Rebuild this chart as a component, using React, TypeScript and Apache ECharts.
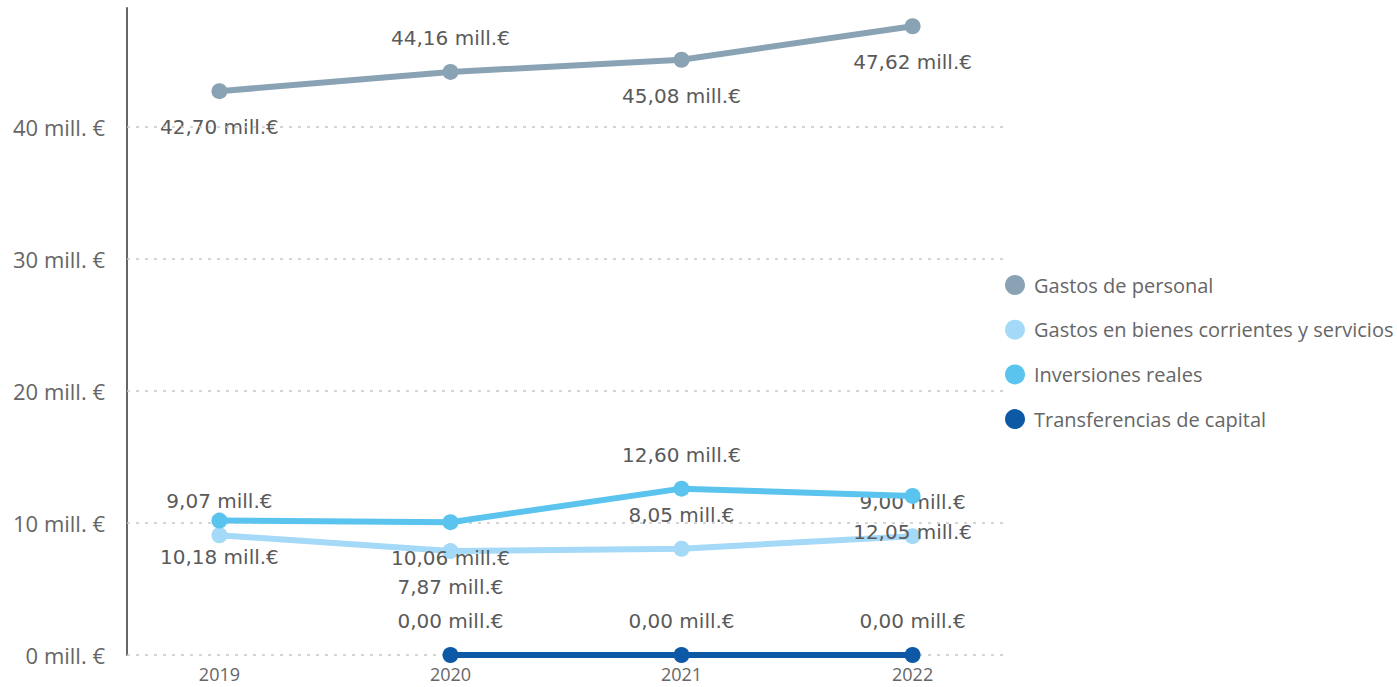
import React, { useEffect, useRef } from "react";
import * as echarts from "echarts";

const years = [2019, 2020, 2021, 2022];
const yTicks = [0, 10, 20, 30, 40];
const seriesNames = [
  "Gastos de personal",
  "Gastos en bienes corrientes y servicios",
  "Inversiones reales",
  "Transferencias de capital",
];
const gastosPersonal = [42.7, 44.16, 45.08, 47.62];
const gastosBienes = [9.07, 7.87, 8.05, 9.0];
const inversiones = [10.18, 10.06, 12.6, 12.05];
const transferencias: (number | null)[] = [null, 0.0, 0.0, 0.0];

// label placement per point (style, not data)
const placePersonal = ["bottom", "top", "bottom", "bottom"];
const placeBienes = ["top", "bottom", "top", "top"];
const placeInversiones = ["bottom", "bottom", "top", "bottom"];
const placeTransfer = ["top", "top", "top", "top"];

const colors = ["#8AA3B4", "#A4D9F7", "#5AC3EE", "#0E59A5"];

const fmt = (v: number) => v.toFixed(2).replace(".", ",") + " mill.€";

export default function App() {
  const ref = useRef<HTMLDivElement>(null);
  useEffect(() => {
    document.body.style.margin = "0";
    if (!ref.current) return;
    const chart = echarts.init(ref.current, undefined, { renderer: "svg" });
    const mk = (vals: (number | null)[], places: string[]) =>
      years.map((y, i) => ({
        value: [y, vals[i]],
        label: {
          position: places[i],
          distance: places[i] === "top" ? 16 : 18,
        },
      }));
    const all = [
      mk(gastosPersonal, placePersonal),
      mk(gastosBienes, placeBienes),
      mk(inversiones, placeInversiones),
      mk(transferencias, placeTransfer),
    ];
    chart.setOption({
      animation: false,
      color: colors,
      grid: {
        left: 127,
        right: 392,
        top: 8,
        bottom: 32,
        containLabel: false,
        outerBoundsMode: "none",
      },
      legend: {
        orient: "vertical",
        left: 1000,
        top: 270,
        icon: "circle",
        itemWidth: 20,
        itemHeight: 20,
        itemGap: 24.7,
        textStyle: { fontFamily: "Open Sans", fontSize: 20, color: "#666666", padding: [0, 0, 0, 4] },
        data: seriesNames,
      },
      xAxis: {
        type: "value",
        min: 2018.6,
        max: 2022.4,
        axisLine: { show: false },
        axisTick: { show: false },
        splitLine: { show: false },
        axisLabel: {
          customValues: years,
          formatter: (v: number) => String(v),
          fontFamily: "Open Sans",
          fontSize: 18,
          color: "#666666",
          margin: 10,
        },
      },
      yAxis: {
        type: "value",
        min: 0,
        max: 49,
        axisLine: { show: true, lineStyle: { color: "#666666", width: 2 } },
        axisTick: { show: false },
        axisLabel: {
          customValues: yTicks,
          formatter: (v: number) => v + " mill. €",
          fontFamily: "Open Sans",
          fontSize: 22,
          color: "#666666",
          margin: 22,
        },
        splitLine: { show: false },
      },
      series: [
        {
          type: "line",
          data: yTicks.map((t) => [2018.6, t]),
          silent: true,
          symbol: "none",
          lineStyle: { opacity: 0 },
          markLine: {
            silent: true,
            symbol: "none",
            label: { show: false },
            lineStyle: { color: "#C8C8C8", type: [3, 6], width: 1.5 },
            data: yTicks.map((t) => ({ yAxis: t })),
          },
          z: 1,
        },
        ...seriesNames.map((name, k) => ({
          name,
          type: "line",
          data: all[k],
          symbol: "circle",
          symbolSize: 16,
          showSymbol: true,
          lineStyle: { width: 6, color: colors[k] },
          itemStyle: { color: colors[k] },
          z: 3 + k,
          label: {
            show: true,
            formatter: (p: any) => fmt(p.value[1]),
            fontFamily: "DejaVu Sans",
            fontSize: 20,
            color: "#5A5A5A",
          },
        })),
      ],
    });
    return () => chart.dispose();
  }, []);
  return <div ref={ref} style={{ width: 1397, height: 687 }} />;
}
